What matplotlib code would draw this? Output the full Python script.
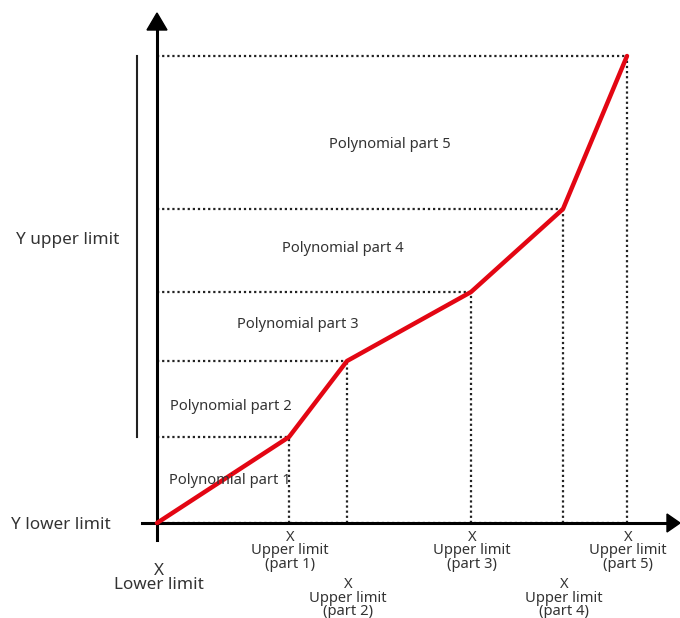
import matplotlib
matplotlib.use("Agg")
import matplotlib.pyplot as plt
from matplotlib.patches import Polygon

plt.rcParams['font.family'] = ['Noto Sans', 'DejaVu Sans']

# breakpoints of the piecewise polynomial (data units)
x_points = [0, 132, 190, 314, 406, 470]
y_points = [0, 86, 162, 231, 314, 467]
part_labels = ["Polynomial part 1", "Polynomial part 2", "Polynomial part 3",
               "Polynomial part 4", "Polynomial part 5"]
x_labels = ["X\nUpper limit\n(part 1)", "X\nUpper limit\n(part 2)", "X\nUpper limit\n(part 3)",
            "X\nUpper limit\n(part 4)", "X\nUpper limit\n(part 5)"]

fig = plt.figure(figsize=(6.8, 6.18), dpi=100)
ax = fig.add_axes([0, 0, 1, 1])
ax.set_xlim(-157, 523)
ax.set_ylim(-95, 523)
ax.axis('off')

txt = '#333333'

# dotted guide lines
for xp, yp in zip(x_points[1:], y_points[1:]):
    ax.plot([0, xp], [yp, yp], color='#222222', lw=1.6, ls=(0, (1, 1.3)), zorder=2)
    ax.plot([xp, xp], [0, yp], color='#222222', lw=1.6, ls=(0, (1, 1.3)), zorder=2)
ax.plot([0, x_points[-1]], [0, 0], color='#222222', lw=1.6, ls=(0, (1, 1.3)), zorder=2)

# axes
ax.plot([-15, 512], [0, 0], color='black', lw=2.2, zorder=3)
ax.plot([0, 0], [-17, 493], color='black', lw=2.2, zorder=3)
ax.add_patch(Polygon([[510, -9], [510, 9], [523, 0]], closed=True, color='black', zorder=3))
ax.add_patch(Polygon([[-10, 493], [10, 493], [0, 510]], closed=True, color='black', zorder=3))

# y range bar
ax.plot([-20, -20], [y_points[1], y_points[-1]], color='#222222', lw=1.5, zorder=3)

# curve
ax.plot(x_points, y_points, color='#e30613', lw=3.2, zorder=4, solid_capstyle='round')

fs = 10.6
# polynomial part labels
part_pos = [(73, 43), (74, 117), (141, 198), (186, 275), (233, 379)]
for lab, (px, py) in zip(part_labels, part_pos):
    ax.text(px, py, lab, ha='center', va='center', fontsize=fs, color=txt, zorder=5)

# y labels
ax.text(-96, -2, "Y lower limit", ha='center', va='center', fontsize=12.3, color=txt)
ax.text(-89, 283, "Y upper limit", ha='center', va='center', fontsize=12.3, color=txt)

# x labels
ax.text(2, -55, "X\nLower limit", ha='center', va='center', fontsize=12.3,
        color=txt, linespacing=0.82)
for i, (xp, lab) in enumerate(zip(x_points[1:], x_labels)):
    base = -28 if i % 2 == 0 else -75
    ax.text(xp + 1, base, lab, ha='center', va='center', fontsize=fs,
            color=txt, linespacing=0.86)

fig.savefig("out.png", dpi=100)
